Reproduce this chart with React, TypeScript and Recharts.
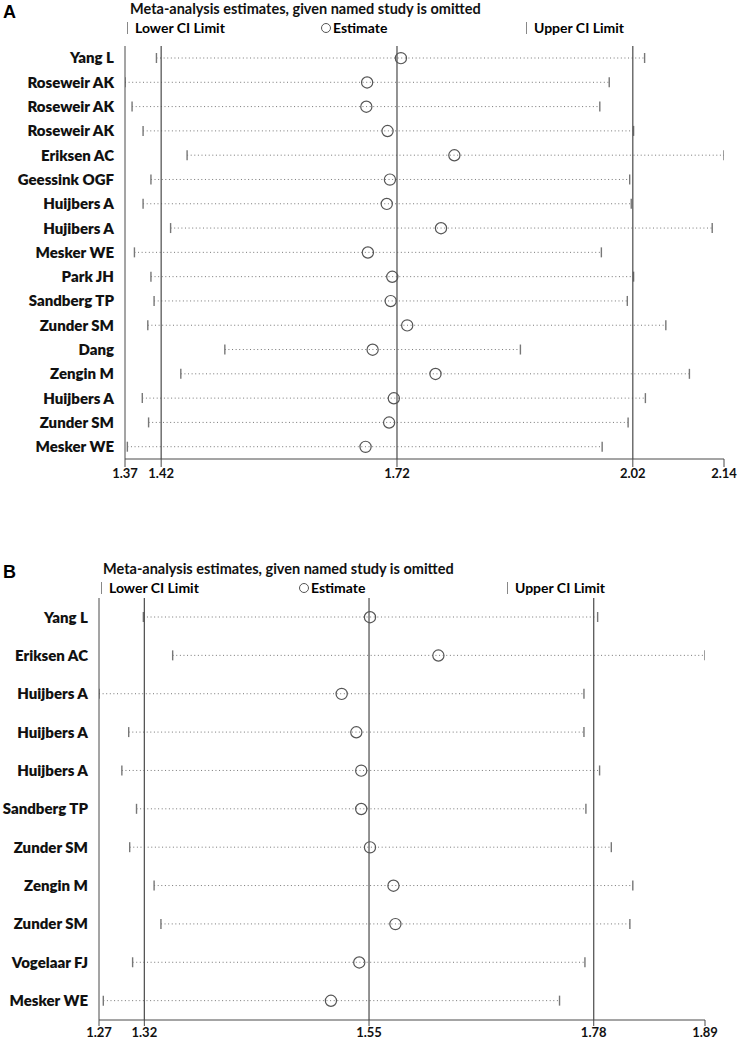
import { ComposedChart, Bar, Scatter, XAxis, YAxis, ReferenceLine } from 'recharts';

// Panel A: influence analysis, one row per omitted study
const studiesA = ['Yang L', 'Roseweir AK', 'Roseweir AK', 'Roseweir AK', 'Eriksen AC', 'Geessink OGF', 'Huijbers A', 'Hujibers A', 'Mesker WE', 'Park JH', 'Sandberg TP', 'Zunder SM', 'Dang', 'Zengin M', 'Huijbers A', 'Zunder SM', 'Mesker WE'];
const lowerA = [1.414, 1.374, 1.383, 1.397, 1.453, 1.407, 1.397, 1.432, 1.386, 1.407, 1.411, 1.403, 1.501, 1.445, 1.396, 1.404, 1.377];
const estA = [1.725, 1.682, 1.681, 1.708, 1.793, 1.711, 1.707, 1.776, 1.683, 1.714, 1.712, 1.733, 1.689, 1.769, 1.716, 1.710, 1.680];
const upperA = [2.035, 1.990, 1.978, 2.021, 2.136, 2.016, 2.018, 2.121, 1.980, 2.021, 2.013, 2.062, 1.877, 2.092, 2.036, 2.014, 1.981];
const ticksA = [1.374, 1.42, 1.72, 2.02, 2.136];
const refA = [1.42, 1.72, 2.02];

// Panel B
const studiesB = ['Yang L', 'Eriksen AC', 'Huijbers A', 'Huijbers A', 'Huijbers A', 'Sandberg TP', 'Zunder SM', 'Zengin M', 'Zunder SM', 'Vogelaar FJ', 'Mesker WE'];
const lowerB = [1.319, 1.349, 1.2736, 1.304, 1.297, 1.312, 1.305, 1.330, 1.337, 1.308, 1.278];
const estB = [1.551, 1.621, 1.522, 1.537, 1.542, 1.542, 1.551, 1.575, 1.577, 1.540, 1.511];
const upperB = [1.784, 1.8939, 1.770, 1.770, 1.786, 1.772, 1.798, 1.820, 1.817, 1.771, 1.745];
const ticksB = [1.2736, 1.32, 1.55, 1.78, 1.8939];
const refB = [1.32, 1.55, 1.78];

const FONT = 'Lato, "Open Sans", sans-serif';
const AXIS = '#4a4a4a';

const buildRows = (names: string[], lo: number[], est: number[], hi: number[]) =>
    names.map((name, i) => ({ row: i, name, lo: lo[i], est: est[i], hi: hi[i] }));

// dotted CI line with a small vertical tick at each end
const CiShape = (props: any) => {
    const { x, y, width, height } = props;
    const cy = y + height / 2;
    return (
        <g>
            <line x1={x} x2={x + width} y1={cy} y2={cy} stroke="#777" strokeDasharray="1 2.6" />
            <line x1={x} x2={x} y1={cy - 5} y2={cy + 5} stroke="#777" strokeWidth={1.4} />
            <line x1={x + width} x2={x + width} y1={cy - 5} y2={cy + 5} stroke="#777" strokeWidth={1.4} />
        </g>
    );
};

const EstShape = (props: any) => (
    <circle cx={props.cx} cy={props.cy} r={5.6} fill="none" stroke="#555" strokeWidth={1.2} />
);

type PanelProps = {
    label: string;
    top: number;
    height: number;
    names: string[];
    lo: number[];
    est: number[];
    hi: number[];
    ticks: number[];
    refs: number[];
    margin: { top: number; right: number; left: number; bottom: number };
    yWidth: number;
    xHeight: number;
    tickSize: number;
    titleX: number;
    legendX: [number, number, number];
};

const Panel = (p: PanelProps) => {
    const rows = buildRows(p.names, p.lo, p.est, p.hi);
    return (
        <div style={{ position: 'absolute', left: 0, top: p.top, width: 737, height: p.height }}>
            <div style={{ position: 'absolute', left: 3, top: 2, fontFamily: 'Arial, sans-serif', fontWeight: 700, fontSize: 18 }}>{p.label}</div>
            <div style={{ position: 'absolute', left: p.titleX, top: 0, fontFamily: FONT, fontWeight: 700, fontSize: 14.5, color: '#111' }}>
                Meta-analysis estimates, given named study is omitted
            </div>
            <div style={{ position: 'absolute', left: p.legendX[0], top: 19, fontFamily: FONT, fontWeight: 700, fontSize: 14, display: 'flex', alignItems: 'center' }}>
                <span style={{ display: 'inline-block', width: 1, height: 12, background: '#888', marginRight: 7 }} />Lower CI Limit
            </div>
            <div style={{ position: 'absolute', left: p.legendX[1], top: 19, fontFamily: FONT, fontWeight: 700, fontSize: 14, display: 'flex', alignItems: 'center' }}>
                <span style={{ display: 'inline-block', width: 8, height: 8, border: '1px solid #555', borderRadius: '50%', marginRight: 2 }} />Estimate
            </div>
            <div style={{ position: 'absolute', left: p.legendX[2], top: 19, fontFamily: FONT, fontWeight: 700, fontSize: 14, display: 'flex', alignItems: 'center' }}>
                <span style={{ display: 'inline-block', width: 1, height: 12, background: '#888', marginRight: 7 }} />Upper CI Limit
            </div>
            <ComposedChart width={737} height={p.height} data={rows} layout="vertical" margin={p.margin} style={{ position: 'absolute', left: 0, top: 0 }}>
                <XAxis
                    type="number"
                    domain={[p.ticks[0], p.ticks[p.ticks.length - 1]]}
                    ticks={p.ticks}
                    tickFormatter={(v: number) => v.toFixed(2)}
                    height={p.xHeight}
                    tickSize={p.tickSize}
                    tickMargin={2}
                    stroke={AXIS}
                    tick={{ fill: '#111', fontFamily: FONT, fontWeight: 700, fontSize: 13 }}
                    interval={0}
                    allowDataOverflow
                />
                <YAxis
                    type="category"
                    dataKey="row"
                    width={p.yWidth}
                    tickFormatter={(i: number) => p.names[i]}
                    tickSize={0}
                    tickMargin={11}
                    stroke={AXIS}
                    tick={{ fill: '#111', fontFamily: FONT, fontWeight: 800, fontSize: 15 }}
                    interval={0}
                />
                {p.refs.map(r => (
                    <ReferenceLine key={r} x={r} stroke={AXIS} strokeWidth={1.2} />
                ))}
                <Bar dataKey={(d: any) => [d.lo, d.hi]} barSize={10} shape={CiShape} isAnimationActive={false} />
                <Scatter dataKey="est" shape={EstShape} isAnimationActive={false} />
            </ComposedChart>
        </div>
    );
};

export default function App() {
    return (
        <div style={{ position: 'absolute', left: 0, top: 0, width: 737, height: 1044, background: '#fff' }}>
            <Panel
                label="A" top={0} height={500}
                names={studiesA} lo={lowerA} est={estA} hi={upperA}
                ticks={ticksA} refs={refA}
                margin={{ top: 46, right: 13, left: 0, bottom: 0 }}
                yWidth={125} xHeight={41} tickSize={8}
                titleX={130} legendX={[127, 321, 526]}
            />
            <Panel
                label="B" top={560} height={484}
                names={studiesB} lo={lowerB} est={estB} hi={upperB}
                ticks={ticksB} refs={refB}
                margin={{ top: 38, right: 32, left: 0, bottom: 0 }}
                yWidth={99} xHeight={24} tickSize={6}
                titleX={103} legendX={[101, 299, 507]}
            />
        </div>
    );
}
